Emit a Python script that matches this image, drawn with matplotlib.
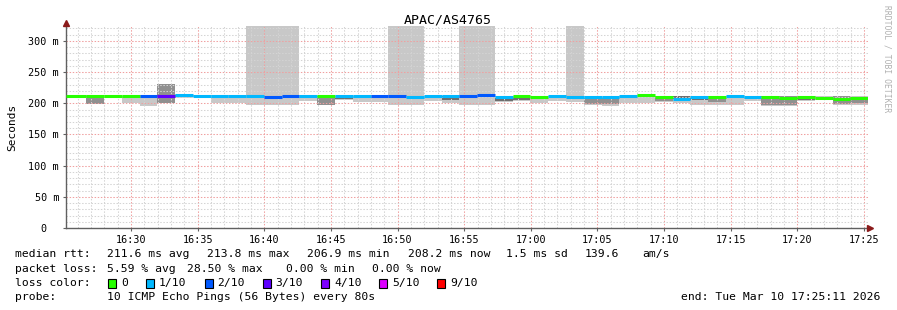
import matplotlib
matplotlib.use("Agg")
import matplotlib.pyplot as plt
from matplotlib.patches import Rectangle

# ---------------- data ----------------
title = "APAC/AS4765"
start_min = 25.305          # first step start, minutes after 16:00
step_sec = 80
median_ms = [212, 212, 212, 212, 212, 212, 213.5, 211.5, 211.5, 211.5,
             211.5, 210.5, 212.5, 211.5, 211.5, 211, 211, 212, 212, 210.5,
             211.5, 211.5, 212.5, 213.8, 210, 211, 210.5, 211, 210.5, 209.5,
             209.5, 211, 213, 210, 207, 210.5, 210, 211.5, 209.5, 210,
             208, 210, 208.5, 207.5, 208.2]
loss = [0, 0, 0, 0, 2, 3, 1, 1, 1, 1,
        1, 2, 2, 1, 0, 1, 1, 2, 2, 1,
        1, 1, 2, 2, 1, 0, 0, 1, 1, 1,
        1, 1, 0, 0, 1, 1, 0, 1, 1, 0,
        0, 0, 0, 0, 0]
smoke_lo = [210, 199, 210, 200, 196, 200, 209, 210, 201, 200,
            197, 197, 197, 203, 198, 205, 202, 202, 197, 197,
            204, 200, 197, 197, 202, 203, 201, 203, 202, 198,
            195, 200, 200, 202, 200, 197, 197, 197, 203, 196,
            196, 203, 205, 198, 198]
smoke_hi = [214, 213, 213, 212, 213, 231, 215, 213, 213, 213,
            400, 400, 400, 213, 212, 212, 212, 213, 400, 400,
            212, 212, 400, 400, 211, 211, 211, 211, 400, 210,
            210, 212, 213, 212, 212, 211, 212, 212, 211, 211,
            212, 211, 212, 212, 211]
core_lo = [0, 199, 0, 0, 0, 200, 210, 0, 0, 0,
           0, 0, 0, 0, 198, 207, 0, 0, 0, 0,
           0, 206, 0, 0, 204, 205, 0, 0, 0, 199,
           199, 0, 0, 203, 207, 205, 202, 0, 0, 198,
           197, 206, 0, 199, 200]
core_hi = [0, 212, 0, 0, 0, 231, 214, 0, 0, 0,
           0, 0, 0, 0, 212, 209, 0, 0, 0, 0,
           0, 211, 0, 0, 210, 210, 0, 0, 0, 209,
           209, 0, 0, 212, 212, 208, 211, 0, 0, 211,
           212, 209, 0, 211, 210]
loss_colors = ["#26ff00", "#00b8ff", "#0059ff", "#5e00ff", "#7e00ff", "#dd00ff", "#ff0000"]
loss_labels = ["0", "1/10", "2/10", "3/10", "4/10", "5/10", "9/10"]
loss_steps = [0, 1, 2, 3, 4, 5, 9]
x_ticks_min = [30, 35, 40, 45, 50, 55, 60, 65, 70, 75, 80, 85]
x_tick_labels = ["16:30", "16:35", "16:40", "16:45", "16:50", "16:55",
                 "17:00", "17:05", "17:10", "17:15", "17:20", "17:25"]
y_ticks = [0, 50, 100, 150, 200, 250, 300]
y_tick_labels = ["0  ", "50 m", "100 m", "150 m", "200 m", "250 m", "300 m"]

W, H = 897, 310
MONO = "DejaVu Sans Mono"
fig = plt.figure(figsize=(W / 100, H / 100), dpi=100)
fig.patch.set_facecolor("white")
L, R, T, B = 66, 868, 26, 228
ax = fig.add_axes([L / W, 1 - B / H, (R - L) / W, (B - T) / H])
xmin, xmax = 25.12, 85.3
ax.set_xlim(xmin, xmax)
ax.set_ylim(0, 324)

step = step_sec / 60.0
n = len(median_ms)
edges = [start_min + i * step for i in range(n + 1)]
edges[0] = xmin - 0.5

for i in range(n):
    x0, x1 = edges[i], edges[i + 1]
    ax.bar(x0, smoke_hi[i] - smoke_lo[i], width=x1 - x0, bottom=smoke_lo[i],
           align="edge", color="#c8c8c8", linewidth=0, zorder=1)
    if core_hi[i] > core_lo[i]:
        shade = "#909090" if core_hi[i] - core_lo[i] > 8 else "#6e6e6e"
        ax.bar(x0, core_hi[i] - core_lo[i], width=x1 - x0, bottom=core_lo[i],
               align="edge", color=shade, linewidth=0, zorder=1.5)

# grid
for m in range(26, 86):
    major = (m % 5 == 0)
    ax.axvline(m, color="#f0a0a0" if major else "#d4d4d4", lw=0.75,
               linestyle=(0, (1.4, 1.6)), zorder=2)
for v in range(10, 330, 10):
    major = (v % 50 == 0)
    ax.axhline(v, color="#f0a0a0" if major else "#d4d4d4", lw=0.75,
               linestyle=(0, (1.4, 1.6)), zorder=2)

# median lines
for i in range(n):
    c = loss_colors[loss_steps.index(loss[i])]
    ax.hlines(median_ms[i], max(edges[i], xmin), edges[i + 1], color=c,
              lw=2.2, zorder=3)

for s in ["top", "right"]:
    ax.spines[s].set_visible(False)
for s in ["left", "bottom"]:
    ax.spines[s].set_color("#606060")
    ax.spines[s].set_linewidth(1.0)
ax.set_xticks(x_ticks_min)
ax.set_xticklabels(x_tick_labels, fontfamily=MONO, fontsize=7.3)
ax.set_yticks(y_ticks)
ax.set_yticklabels(y_tick_labels, fontfamily=MONO, fontsize=7.3)
ax.tick_params(length=2, color="#606060", pad=3)
ax.plot([xmin], [329], marker="^", color="#8b1a1a", ms=4, clip_on=False, zorder=5)
ax.plot([xmin, xmin], [324, 329], color="#606060", lw=1, clip_on=False)
ax.plot([xmax + 0.15], [0], marker=">", color="#8b1a1a", ms=4, clip_on=False, zorder=5)

def ftext(x, y, s, **kw):
    fig.text(x / W, 1 - y / H, s, fontfamily=MONO, va="center", **kw)

ftext(448, 20, title, ha="center", fontsize=9.5)
ftext(12, 127, "Seconds", ha="center", rotation=90, fontsize=8)
ftext(887, 59, "RRDTOOL / TOBI OETIKER", ha="center", rotation=270,
      fontsize=5.8, color="#b0b0b0")

fs = 8.2
y1, y2, y3, y4 = 254, 268.5, 283, 297
ftext(15, y1, "median rtt:", fontsize=fs)
ftext(107, y1, "211.6 ms avg", fontsize=fs)
ftext(207, y1, "213.8 ms max", fontsize=fs)
ftext(307, y1, "206.9 ms min", fontsize=fs)
ftext(408, y1, "208.2 ms now", fontsize=fs)
ftext(506, y1, "1.5 ms sd", fontsize=fs)
ftext(585, y1, "139.6", fontsize=fs)
ftext(642, y1, "am/s", fontsize=fs)
ftext(15, y2, "packet loss:", fontsize=fs)
ftext(107, y2, "5.59 % avg", fontsize=fs)
ftext(187, y2, "28.50 % max", fontsize=fs)
ftext(286, y2, "0.00 % min", fontsize=fs)
ftext(372, y2, "0.00 % now", fontsize=fs)
ftext(15, y3, "loss color:", fontsize=fs)
sq_x = [108, 146, 204.5, 262.5, 321, 379, 437]
for xx, col, lab in zip(sq_x, loss_colors, loss_labels):
    fig.patches.append(Rectangle(((xx) / W, 1 - (y3 + 4.5) / H), 8 / W, 9 / H,
                                 transform=fig.transFigure, facecolor=col,
                                 edgecolor="black", linewidth=0.8))
    ftext(xx + 13, y3, lab, fontsize=fs)
ftext(15, y4, "probe:", fontsize=fs)
ftext(107, y4, "10 ICMP Echo Pings (56 Bytes) every 80s", fontsize=fs)
ftext(880, y4, "end: Tue Mar 10 17:25:11 2026", ha="right", fontsize=fs)

fig.savefig("out.png", dpi=100, facecolor="white")
